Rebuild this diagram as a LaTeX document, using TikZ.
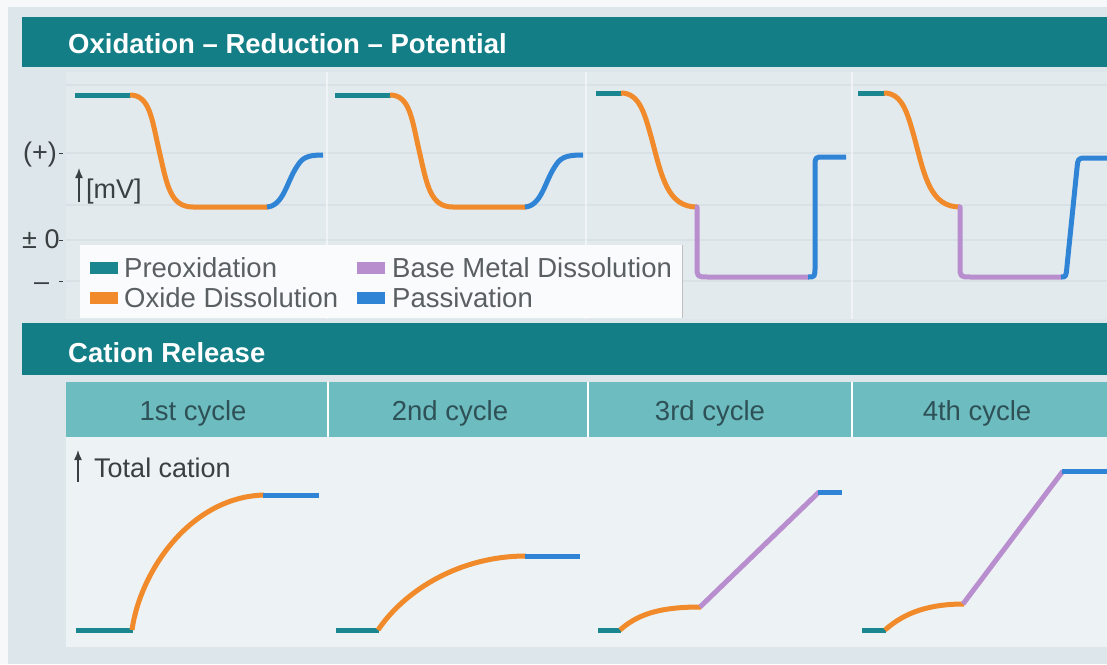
\documentclass[tikz,border=0pt]{standalone}
\usepackage{fontspec}
\setmainfont{Liberation Sans}
\usetikzlibrary{arrows.meta}
\definecolor{paper}{HTML}{DDE6EA}
\definecolor{outer}{HTML}{F6F8F9}
\definecolor{hdr}{HTML}{137E86}
\definecolor{upplot}{HTML}{E2EAED}
\definecolor{lowplot}{HTML}{EDF2F4}
\definecolor{cell}{HTML}{6DBDC0}
\definecolor{celltext}{HTML}{2E5157}
\definecolor{preox}{HTML}{1A8790}
\definecolor{oxd}{HTML}{F08A2A}
\definecolor{pasv}{HTML}{2F84D6}
\definecolor{bmd}{HTML}{B88ECF}
\definecolor{lgtext}{HTML}{5A5F62}
\definecolor{axtext}{HTML}{3A3F42}
\definecolor{stripe}{HTML}{CCD7DC}
\tikzset{
  curve/.style={line width=5pt, line cap=butt, line join=round},
  pre/.style={curve, preox},
  oxi/.style={curve, oxd},
  pas/.style={curve, pasv},
  bas/.style={curve, bmd},
  hdrtext/.style={font=\fontsize{27.5}{30}\selectfont\bfseries, text=white, anchor=base west, inner sep=0pt},
  lgtxt/.style={font=\fontsize{27.5}{30}\selectfont, text=lgtext, anchor=base west, inner sep=0pt},
  axtxt/.style={font=\fontsize{27}{30}\selectfont, text=axtext, inner sep=0pt},
  cyctxt/.style={font=\fontsize{27.5}{30}\selectfont, text=celltext, anchor=base, inner sep=0pt},
  swatch/.style={inner sep=0pt, minimum width=28pt, minimum height=12pt},
  tick/.style={axtext, line width=1pt},
  uparrow/.style={-{Latex[length=10pt,width=8pt]}, line width=1.4pt, axtext}
}
\begin{document}
\begin{tikzpicture}[x=1pt,y=-1pt]
\useasboundingbox (0,0) rectangle (1107,664);
% backgrounds
\fill[outer] (0,0) rectangle (1107,664);
\fill[paper] (8,7) rectangle (1107,664);
% header bars
\fill[hdr] (22,17) rectangle (1107,67);
\fill[hdr] (22,323) rectangle (1107,375);
% upper plot area
\fill[upplot] (66,72) rectangle (1107,319);
\foreach \yy in {85,153,205,240,281}
  \draw[stripe, line width=1.5pt, opacity=0.45] (66,\yy) -- (1107,\yy);
\foreach \xx in {327,586,852}
  \draw[white, line width=1.2pt, opacity=0.5] (\xx,72) -- (\xx,319);
% lower plot area
\fill[cell] (66,382) rectangle (1107,437);
\fill[lowplot] (66,437) rectangle (1107,647);
\foreach \xx in {328,588,852}
  \draw[white, line width=1.5pt] (\xx,382) -- (\xx,437);
% titles
\node[hdrtext] (t1) at (68,53) {Oxidation – Reduction – Potential};
\node[hdrtext] (t2) at (68,362) {Cation Release};
% cycle labels
\node[cyctxt] (c1) at (193,420) {1st cycle};
\node[cyctxt] (c2) at (450,420) {2nd cycle};
\node[cyctxt] (c3) at (710,420) {3rd cycle};
\node[cyctxt] (c4) at (977,420) {4th cycle};
% axis labels upper
\node[axtxt, anchor=base west] (plus) at (23,161) {(+)};
\draw[tick] (59,153) -- (63,153);
\node[axtxt, anchor=base west] (zero) at (22,248) {± 0};
\draw[tick] (59,240) -- (63,240);
\node[axtxt, anchor=base west] (minus) at (34,290) {–};
\draw[tick] (59,281) -- (63,281);
\coordinate (mva) at (79,202);
\coordinate (mvb) at (79,168);
\draw[uparrow] (mva) -- (mvb);
\node[axtxt, anchor=base west] (mv) at (86,198) {[mV]};
% axis label lower
\coordinate (tca) at (78,482);
\coordinate (tcb) at (78,450);
\draw[uparrow] (tca) -- (tcb);
\node[axtxt, anchor=base west] (tc) at (94,477) {Total cation};
% legend
\fill[white!70!lowplot] (80,245) rectangle (682,318);
\draw[white!75!black, line width=0.8pt] (682,245) -- (682,318);
\node[swatch, fill=preox] (s1) at (104,268) {};
\node[lgtxt] (l1) at (124,277) {Preoxidation};
\node[swatch, fill=oxd] (s2) at (104,298) {};
\node[lgtxt] (l2) at (124,307) {Oxide Dissolution};
\node[swatch, fill=bmd] (s3) at (371,268) {};
\node[lgtxt] (l3) at (392,277) {Base Metal Dissolution};
\node[swatch, fill=pasv] (s4) at (371,298) {};
\node[lgtxt] (l4) at (392,307) {Passivation};
% ---- upper curves ----
% panel 1
\draw[pre] (75,95) -- (131,95);
\draw[oxi] (130,95) .. controls (150,95) and (152,120) .. (159,150) .. controls (167,185) and (170,207) .. (193,207) -- (268,207);
\draw[pas] (267,207) .. controls (283,206) and (287,182) .. (296,168) .. controls (302,158) and (306,155) .. (323,155);
% panel 2
\begin{scope}[xshift=260pt]
\draw[pre] (75,95) -- (131,95);
\draw[oxi] (130,95) .. controls (150,95) and (152,120) .. (159,150) .. controls (167,185) and (170,207) .. (193,207) -- (266,207);
\draw[pas] (265,207) .. controls (281,206) and (285,182) .. (294,168) .. controls (300,158) and (304,155) .. (323,155);
\end{scope}
% panel 3
\draw[pre] (596,93) -- (622,93);
\draw[oxi] (621,93) .. controls (640,93) and (645,115) .. (652,140) .. controls (662,178) and (668,207) .. (697,207);
\draw[bas] (695,207) -- (697,207) -- (697,266) .. controls (697,277) .. (708,277) -- (809,277);
\draw[pas] (808,277) .. controls (815,277) .. (815,266) -- (815,167) .. controls (815,157) .. (824,157) -- (846,157);
% panel 4
\draw[pre] (858,93) -- (885,93);
\draw[oxi] (884,93) .. controls (903,93) and (908,115) .. (915,140) .. controls (925,178) and (931,207) .. (960,207);
\draw[bas] (958,207) -- (960,207) -- (960,266) .. controls (960,277) .. (971,277) -- (1062,277);
\draw[pas] (1061,277) .. controls (1066,277) .. (1067,266) -- (1077,168) .. controls (1078,158) .. (1087,158) -- (1107,158);
% ---- lower curves ----
\draw[pre] (76,630) -- (133,630);
\draw[oxi] (132,630) .. controls (140,572) and (190,497) .. (264,495);
\draw[pas] (263,495) -- (319,495);
\draw[pre] (336,630) -- (379,630);
\draw[oxi] (378,630) .. controls (405,590) and (460,556) .. (526,556);
\draw[pas] (525,556) -- (580,556);
\draw[pre] (598,630) -- (621,630);
\draw[oxi] (620,630) .. controls (640,612) and (665,607) .. (701,607);
\draw[bas] (700,607) -- (819,492);
\draw[pas] (818,492) -- (842,492);
\draw[pre] (862,630) -- (886,630);
\draw[oxi] (885,630) .. controls (905,612) and (930,604) .. (964,604);
\draw[bas] (963,604) -- (1063,471);
\draw[pas] (1062,471) -- (1107,471);
\end{tikzpicture}
\end{document}
